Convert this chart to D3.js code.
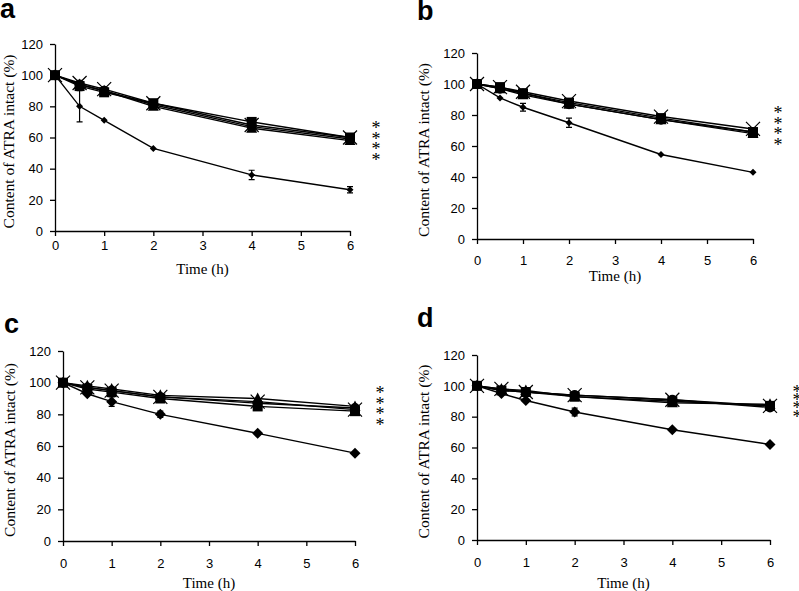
<!DOCTYPE html>
<html><head><meta charset="utf-8">
<script src="https://cdn.jsdelivr.net/npm/d3@7"></script>
<style>body{margin:0;background:#fff}svg{display:block}</style>
</head><body>
<svg id="chart" width="799" height="591"></svg>
<script>
// ---- data ----
const times = [0, 0.5, 1, 2, 4, 6];
const xTicks = [0, 1, 2, 3, 4, 5, 6];
const yTicks = [0, 20, 40, 60, 80, 100, 120];
const panelLetters = ["a", "b", "c", "d"];
const markerTypes = ["diamond", "square", "triangle", "circle", "cross"];

// panel a
const aDiamond  = [100, 80, 71, 53, 36, 26.5];
const aDiamondE = [0, 10, 1, 1, 3, 2];
const aSquare   = [100, 93, 89, 82, 70, 60];
const aTriangle = [100, 94, 90, 80, 66, 58];
const aCircle   = [100, 94, 90, 81, 67, 59];
const aCross    = [100, 95, 91, 82, 68, 60];
// panel b
const bDiamond  = [100, 91, 85, 75, 54.5, 43];
const bDiamondE = [0, 1, 2.5, 3, 1, 0.5];
const bSquare   = [100, 98, 94, 88, 78, 69];
const bTriangle = [100, 97, 93, 87, 77, 68];
const bCircle   = [100, 97, 94, 87, 77, 69];
const bCross    = [100, 98, 95, 89, 79, 71];
// panel c
const cDiamond  = [100, 93, 88, 80, 68, 55.5];
const cDiamondE = [0, 1, 3, 2, 1, 0.5];
const cSquare   = [100, 96, 94, 90, 85, 82];
const cTriangle = [100, 98, 96, 92, 90, 85];
const cCircle   = [100, 97, 95, 91, 87, 84];
const cCross    = [100, 97, 95, 91, 88, 83];
// panel d
const dDiamond  = [100, 95, 90.5, 83, 71.5, 62];
const dDiamondE = [0, 1, 1, 2.5, 1, 0.5];
const dSquare   = [100, 97, 96, 93, 90, 87];
const dTriangle = [100, 98, 97, 93, 89, 88];
const dCircle   = [100, 97, 96, 94, 91, 86];
const dCross    = [100, 98, 96, 94, 91, 87];

const panelData = [
  {diamond: aDiamond, err: aDiamondE, square: aSquare, triangle: aTriangle, circle: aCircle, cross: aCross},
  {diamond: bDiamond, err: bDiamondE, square: bSquare, triangle: bTriangle, circle: bCircle, cross: bCross},
  {diamond: cDiamond, err: cDiamondE, square: cSquare, triangle: cTriangle, circle: cCircle, cross: cCross},
  {diamond: dDiamond, err: dDiamondE, square: dSquare, triangle: dTriangle, circle: dCircle, cross: dCross}
];

// ---- layout ----
const layout = [
  {x0: 55,  x1: 350, y0: 231, y1: 44,  lx: 0,   ly: 18,  ylx: 8,   xlab: 17, tlab: 274, astX: 376, astY: 127, astD: 10.5, dsz: 6},
  {x0: 477, x1: 753, y0: 239, y1: 53,  lx: 417, ly: 20,  ylx: 423, xlab: 24, tlab: 281, astX: 778, astY: 112, astD: 10.5, dsz: 6},
  {x0: 63,  x1: 355, y0: 541, y1: 351, lx: 4,   ly: 333, ylx: 9,   xlab: 25, tlab: 588, astX: 380, astY: 392, astD: 10.5, dsz: 10},
  {x0: 477, x1: 770, y0: 540, y1: 355, lx: 417, ly: 327, ylx: 423, xlab: 25, tlab: 588, astX: 797, astY: 391, astD: 8.2,  dsz: 10}
];

const svg = d3.select("#chart");
svg.append("rect").attr("width", 799).attr("height", 591).attr("fill", "#fff");

function drawMarker(g, type, cx, cy, dsz) {
  if (type === "diamond") {
    const s = dsz / 2 + 0.5;
    g.append("path").attr("d", `M${cx},${cy - s}L${cx + s},${cy}L${cx},${cy + s}L${cx - s},${cy}Z`).attr("fill", "#000");
  } else if (type === "square") {
    g.append("rect").attr("x", cx - 5).attr("y", cy - 5).attr("width", 10).attr("height", 10).attr("fill", "#000");
  } else if (type === "triangle") {
    g.append("path").attr("d", `M${cx},${cy - 6}L${cx + 5.5},${cy + 4.5}L${cx - 5.5},${cy + 4.5}Z`).attr("fill", "#000");
  } else if (type === "circle") {
    g.append("circle").attr("cx", cx).attr("cy", cy).attr("r", 5).attr("fill", "#000");
  } else if (type === "cross") {
    const s = 7;
    g.append("path").attr("d", `M${cx - s},${cy - s}L${cx + s},${cy + s}M${cx + s},${cy - s}L${cx - s},${cy + s}`)
      .attr("stroke", "#000").attr("stroke-width", 1.2).attr("fill", "none");
  }
}

layout.forEach((L, i) => {
  const D = panelData[i];
  const x = d3.scaleLinear().domain([0, 6]).range([L.x0, L.x1]);
  const y = d3.scaleLinear().domain([0, 120]).range([L.y0, L.y1]);
  const g = svg.append("g");

  // axes
  const xAxis = d3.axisBottom(x).tickValues(xTicks).tickFormat(d3.format("d")).tickSize(5).tickSizeOuter(0).tickPadding(L.xlab - 12);
  const yAxis = d3.axisLeft(y).tickValues(yTicks).tickFormat(d3.format("d")).tickSize(5).tickSizeOuter(0).tickPadding(7);
  const gx = g.append("g").attr("transform", `translate(0,${L.y0})`).call(xAxis);
  const gy = g.append("g").attr("transform", `translate(${L.x0},0)`).call(yAxis);
  [gx, gy].forEach(a => {
    a.attr("font-family", "Liberation Sans, Arial, sans-serif").attr("font-size", 13);
    a.selectAll("path").attr("stroke", "#000").attr("stroke-width", 1.3);
    a.selectAll("line").attr("stroke", "#000").attr("stroke-width", 1.3);
    a.selectAll("text").attr("fill", "#000");
  });

  // axis titles
  g.append("text").attr("x", (L.x0 + L.x1) / 2).attr("y", L.tlab).attr("text-anchor", "middle").attr("fill", "#000")
    .attr("font-family", "Liberation Serif, Times New Roman, serif").attr("font-size", 15).text("Time (h)");
  g.append("text").attr("transform", `translate(${L.ylx},${(L.y0 + L.y1) / 2 + 4}) rotate(-90)`)
    .attr("text-anchor", "middle").attr("dominant-baseline", "central").attr("fill", "#000")
    .attr("font-family", "Liberation Serif, Times New Roman, serif").attr("font-size", 15.5).text("Content of ATRA intact (%)");

  // panel letter
  g.append("text").attr("x", L.lx).attr("y", L.ly).attr("font-family", "Liberation Sans, Arial, sans-serif")
    .attr("font-weight", "bold").attr("font-size", 27).attr("fill", "#000").text(panelLetters[i]);

  // lines
  const line = d3.line().x((d, k) => x(times[k])).y(d => y(d));
  ["cross", "circle", "triangle", "square", "diamond"].forEach(t => {
    g.append("path").attr("d", line(D[t])).attr("fill", "none").attr("stroke", "#000").attr("stroke-width", 1.4);
  });

  // error bars for diamond series
  D.diamond.forEach((v, k) => {
    const e = D.err[k];
    if (e < 1.2) return;
    const cx = x(times[k]);
    g.append("path").attr("d", `M${cx},${y(v - e)}V${y(v + e)}M${cx - 3},${y(v - e)}H${cx + 3}M${cx - 3},${y(v + e)}H${cx + 3}`)
      .attr("stroke", "#000").attr("stroke-width", 1.2).attr("fill", "none");
  });

  // markers
  ["diamond", "cross", "circle", "triangle", "square"].forEach(t => {
    D[t].forEach((v, k) => drawMarker(g, t, x(times[k]), y(v), L.dsz));
  });

  // significance asterisks
  for (let k = 0; k < 4; k++) {
    g.append("text").attr("x", L.astX).attr("y", L.astY + k * L.astD + 7).attr("text-anchor", "middle")
      .attr("font-family", "Liberation Serif, serif").attr("font-size", 18).attr("fill", "#000").text("*");
  }
});
</script>
</body></html>
